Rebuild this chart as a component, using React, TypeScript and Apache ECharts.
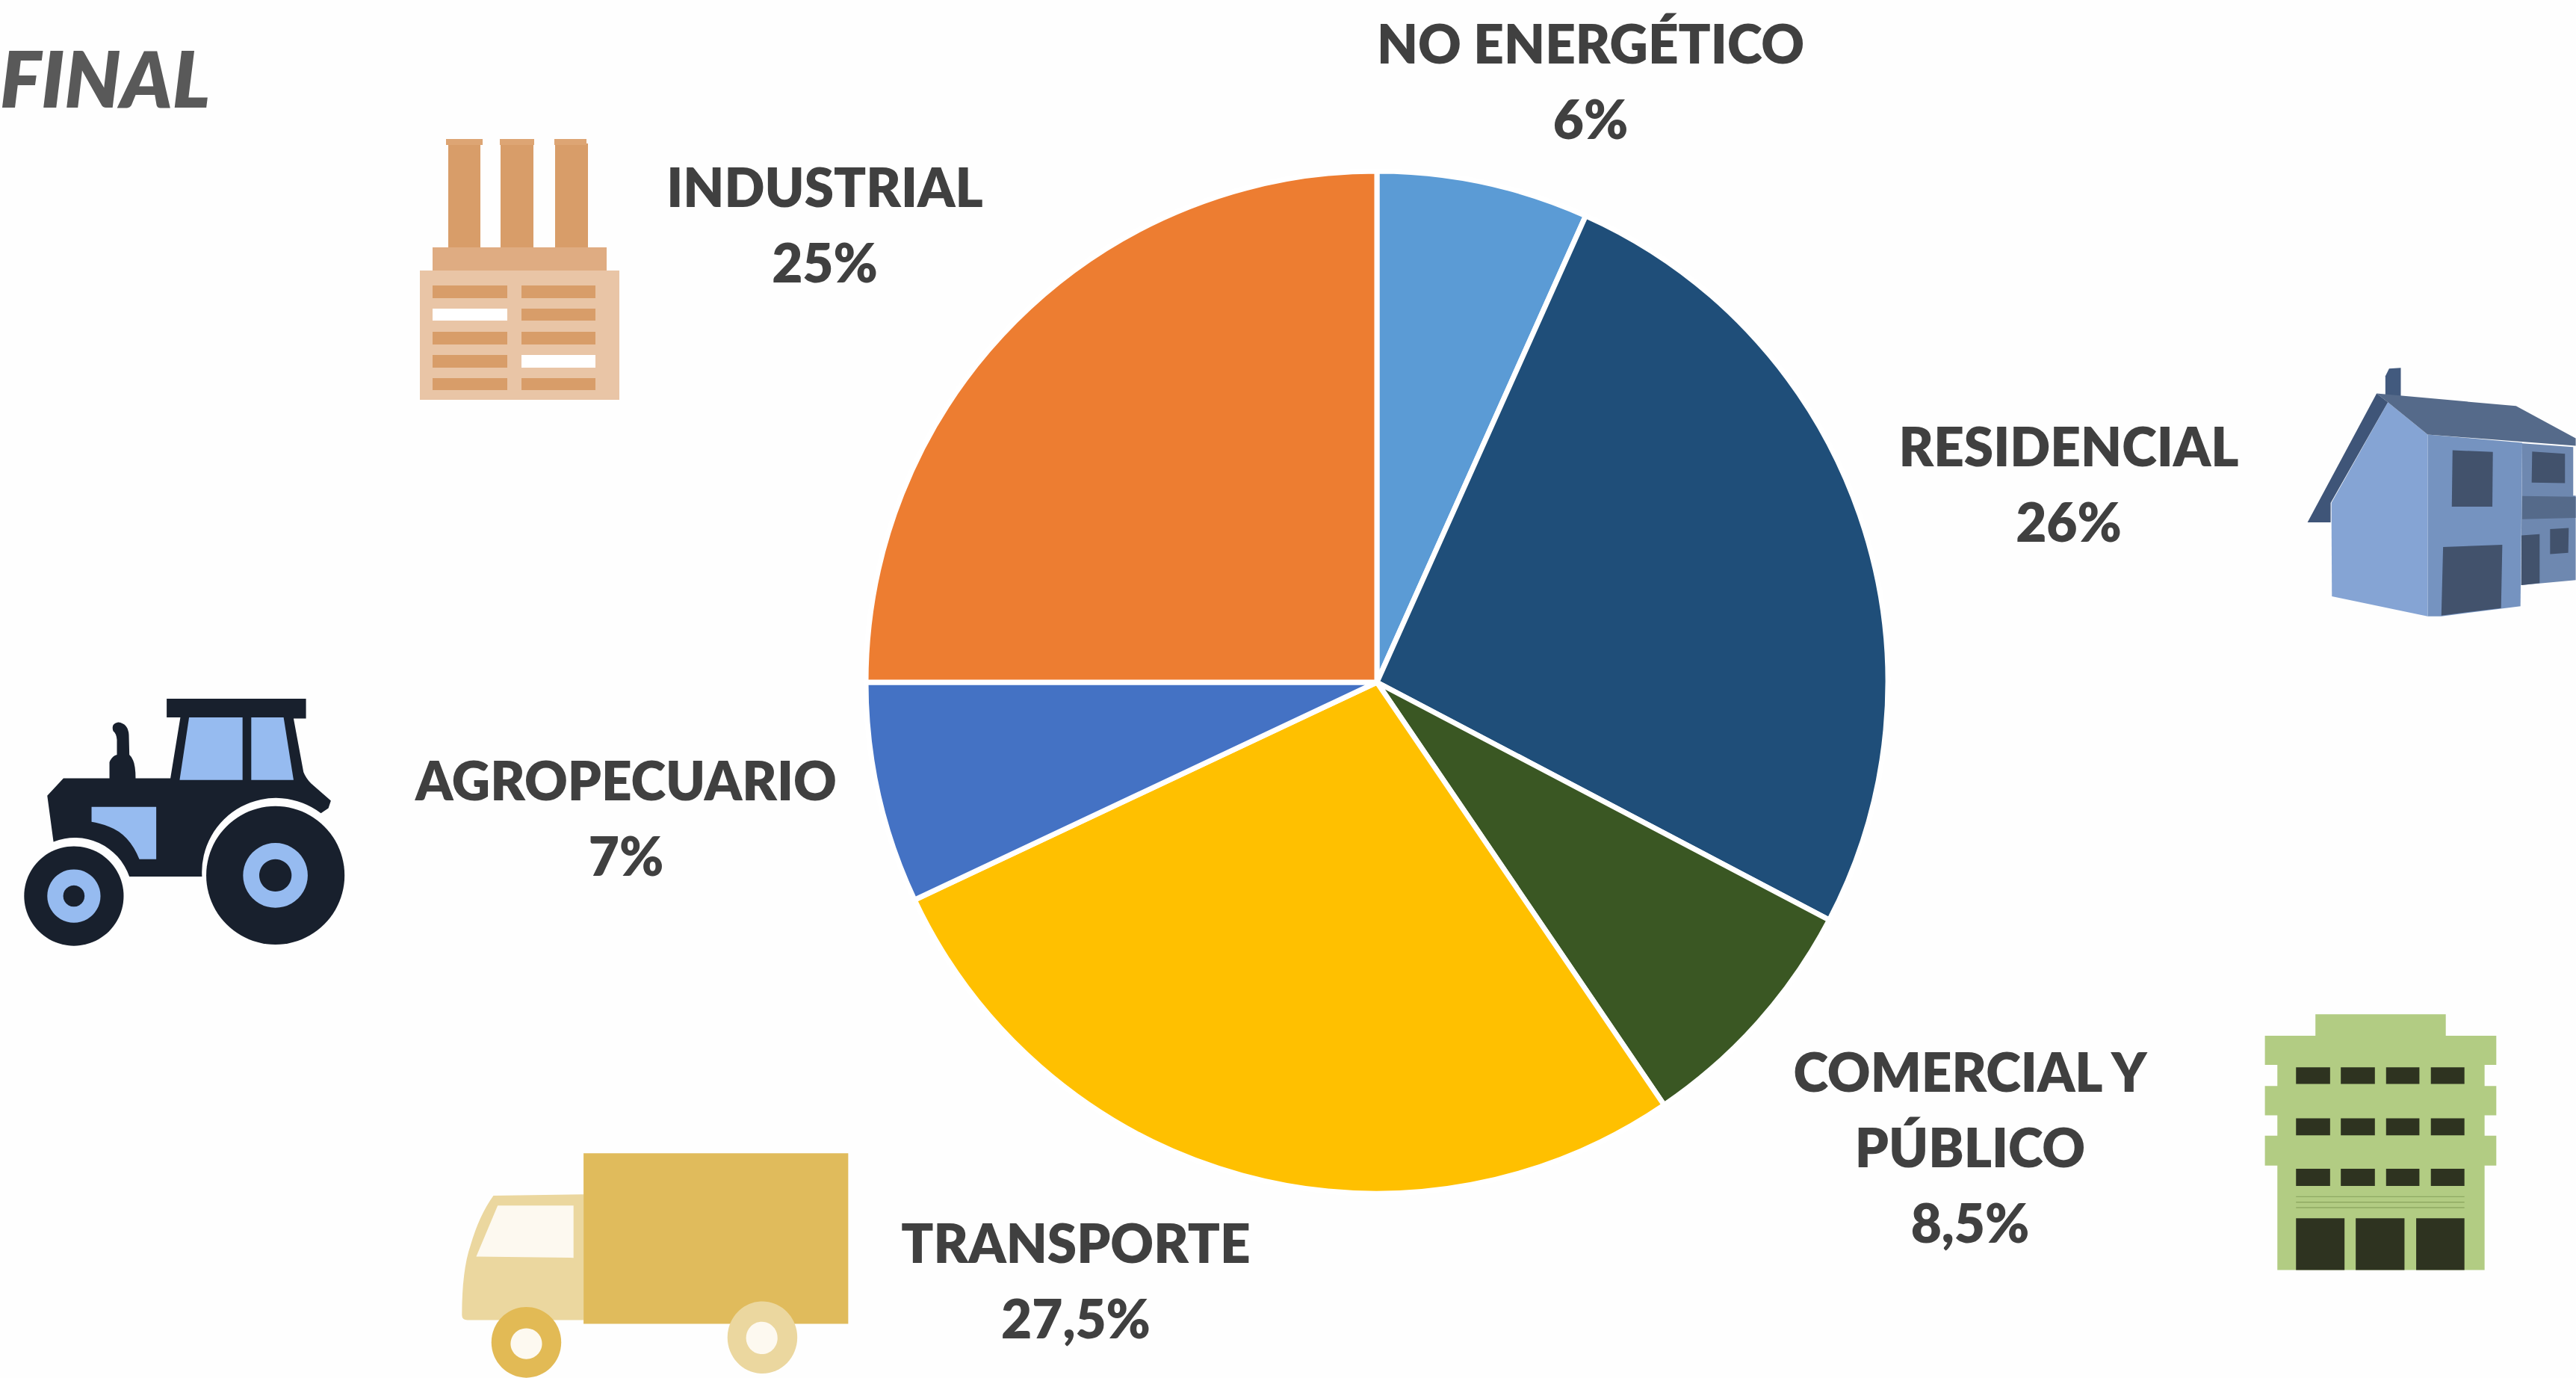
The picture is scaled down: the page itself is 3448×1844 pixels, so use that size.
import React, { useEffect, useRef } from "react";
import * as echarts from "echarts";

const sectors = ["NO ENERGÉTICO", "RESIDENCIAL", "COMERCIAL Y PÚBLICO", "TRANSPORTE", "AGROPECUARIO", "INDUSTRIAL"];
const sliceShares = [6.7, 26, 7.8, 27.5, 7, 25];
// Label texts as printed in the picture.
const labelLines = ["NO ENERGÉTICO\n6%", "RESIDENCIAL\n26%", "COMERCIAL Y\nPÚBLICO\n8,5%", "TRANSPORTE\n27,5%", "AGROPECUARIO\n7%", "INDUSTRIAL\n25%"];
const sliceColors = ["#5B9BD5", "#1F4E79", "#3A5723", "#FFC000", "#4472C4", "#ED7D31"];
const labelCenters = [[2129, 108], [2769, 647], [2637, 1534], [1440, 1713], [838, 1094], [1104, 300]];
const title = "FINAL";

echarts.graphic.registerShape("tractorBody", echarts.graphic.extendPath(
  "M190 495 L255 425 L440 425 L440 360 Q450 335 470 330 L470 270 Q468 245 455 235 Q445 205 475 200 Q515 205 518 250 L520 330 Q545 350 545 425 L685 425 L725 180 L670 180 L670 105 L1230 105 L1230 185 L1180 185 L1220 400 Q1230 425 1250 445 L1330 515 L1320 545 L1290 565 A 298 298 0 0 0 812 820 L520 820 A 232 232 0 0 0 215 680 Z", {}));
echarts.graphic.registerShape("tractorPanel", echarts.graphic.extendPath(
  "M368 540 L628 540 L628 750 L560 750 Q520 650 440 620 Q400 605 368 600 Z", {}));
echarts.graphic.registerShape("truckCab", echarts.graphic.extendPath(
  "M100 780 Q100 600 130 500 Q160 380 210 300 L525 295 L525 800 L120 800 Q100 800 100 780 Z", {}));

const rect = (x1: number, y1: number, x2: number, y2: number, fill: string) => ({
  type: "rect", shape: { x: x1, y: y1, width: x2 - x1, height: y2 - y1 }, style: { fill },
});
const poly = (points: number[][], fill: string) => ({ type: "polygon", shape: { points }, style: { fill } });
const circle = (cx: number, cy: number, r: number, fill: string) => ({ type: "circle", shape: { cx, cy, r }, style: { fill } });
const ell = (cx: number, cy: number, rx: number, ry: number, fill: string) => ({ type: "ellipse", shape: { cx, cy, rx, ry }, style: { fill } });

function factory() {
  const dark = "#D89D69";
  const kids: any[] = [
    rect(562, 362, 829, 535, "#E9C5A6"),
    rect(579, 331, 812, 362, "#DFAC82"),
    rect(600, 192, 643, 331, dark), rect(597, 186, 646, 194, "#DDA574"),
    rect(670, 192, 714, 331, dark), rect(669, 186, 715, 194, "#DDA574"),
    rect(743, 192, 787, 331, dark), rect(742, 186, 785, 194, "#DDA574"),
  ];
  const rows = [[382, 399], [413, 429], [444, 461], [475, 492], [506, 522]];
  rows.forEach(([a, b], i) => {
    kids.push(rect(579, a, 679, b, i === 1 ? "#FFFFFF" : dark));
    kids.push(rect(698, a, 797, b, i === 3 ? "#FFFFFF" : dark));
  });
  return { type: "group", children: kids };
}

function tractor() {
  const d = "#18202D", l = "#96BBF0";
  return {
    type: "group", x: 0, y: 900, scaleX: 1 / 3, scaleY: 1 / 3,
    children: [
      { type: "tractorBody", style: { fill: d } },
      { type: "tractorPanel", style: { fill: l } },
      poly([[760, 180], [975, 180], [975, 432], [722, 432]], l),
      poly([[1010, 180], [1140, 180], [1180, 432], [1010, 432]], l),
      circle(1107, 815, 278, d), circle(1107, 815, 130, l), circle(1107, 815, 65, d),
      circle(297, 898, 200, d), circle(297, 898, 107, l), circle(297, 898, 43, d),
    ],
  };
}

function truck() {
  return {
    type: "group", x: 580, y: 1500, scaleX: 1 / 2.613, scaleY: 1 / 3,
    children: [
      { type: "truckCab", style: { fill: "#EBD79F" } },
      poly([[225, 340], [490, 340], [490, 550], [150, 545]], "#FDF9F0"),
      rect(525, 130, 1450, 815, "#E0BB5C"),
      ell(325, 890, 122, 142, "#E2BA55"), ell(325, 895, 55, 62, "#FDF9F0"),
      ell(1150, 870, 122, 145, "#EBD79F"), ell(1148, 872, 55, 65, "#FDF9F0"),
    ],
  };
}

function building() {
  const g = "#B2CC83", d = "#2E3320";
  const kids: any[] = [
    rect(205, 300, 1038, 1140, g),
    rect(358, 112, 882, 205, g),
    rect(155, 198, 1085, 315, g), rect(155, 400, 1085, 518, g), rect(155, 600, 1085, 720, g),
  ];
  [[325, 392], [530, 598], [733, 802]].forEach(([a, b]) => {
    [[280, 417], [460, 597], [642, 776], [822, 957]].forEach(([x1, x2]) => kids.push(rect(x1, a, x2, b, d)));
  });
  [845, 867, 889].forEach((y) => kids.push(rect(280, y - 2, 957, y + 2, "#8FAA63")));
  [[280, 475], [520, 716], [763, 957]].forEach(([x1, x2]) => kids.push(rect(x1, 932, x2, 1140, d)));
  return { type: "group", x: 2980, y: 1320, scaleX: 1 / 3, scaleY: 1 / 3, children: kids };
}

function house() {
  const dk = "#42526C";
  return {
    type: "group", x: 3048, y: 460, scaleX: 1 / 3, scaleY: 1 / 3,
    children: [
      poly([[435, 130], [450, 100], [497, 97], [497, 210], [435, 210]], "#425A7E"),
      poly([[985, 400], [1190, 415], [1190, 610], [1200, 610], [1200, 950], [980, 970]], "#6E88B0"),
      poly([[605, 365], [985, 398], [978, 1055], [660, 1095], [605, 1095]], "#7593C0"),
      poly([[445, 235], [605, 365], [605, 1095], [220, 1015], [218, 640]], "#85A4D4"),
      poly([[400, 200], [960, 250], [1200, 380], [1200, 410], [605, 365], [445, 235]], "#556A8A"),
      poly([[400, 200], [445, 235], [215, 640], [215, 718], [122, 718]], "#3F5578"),
      poly([[985, 612], [1200, 615], [1200, 700], [985, 705]], "#556A8A"),
      poly([[705, 428], [867, 435], [865, 655], [702, 655]], dk),
      poly([[1025, 433], [1157, 442], [1157, 560], [1023, 558]], dk),
      poly([[667, 817], [905, 808], [900, 1062], [660, 1092]], dk),
      poly([[982, 770], [1055, 765], [1055, 962], [982, 970]], dk),
      poly([[1097, 745], [1172, 740], [1170, 840], [1097, 845]], dk),
    ],
  };
}

export default function App() {
  const ref = useRef<HTMLDivElement>(null);
  useEffect(() => {
    document.body.style.margin = "0";
    const chart = echarts.init(ref.current!, undefined, { renderer: "svg" });
    chart.setOption({
      animation: false,
      backgroundColor: "#FEFEFE",
      graphic: { elements: [
        factory(), tractor(), truck(), building(), house(),
        { type: "text", x: 0, y: 103, style: { text: title, fill: "#595959", font: "italic 800 104px Lato, 'Open Sans', sans-serif", textVerticalAlign: "middle" } },
      ] },
      series: [{
        type: "pie",
        center: [1843, 913],
        radius: [0, 684],
        startAngle: 90,
        clockwise: true,
        avoidLabelOverlap: false,
        itemStyle: { borderColor: "#FFFFFF", borderWidth: 7 },
        label: {
          show: true,
          position: "outside",
          formatter: (p: any) => labelLines[p.dataIndex],
          fontFamily: "Lato, 'Open Sans', sans-serif",
          fontWeight: 800,
          fontSize: 71,
          lineHeight: 101,
          color: "#404040",
          align: "center",
        },
        labelLine: { show: false },
        labelLayout: (p: any) => ({
          x: labelCenters[p.dataIndex][0],
          y: labelCenters[p.dataIndex][1],
          align: "center",
          verticalAlign: "middle",
        }),
        data: sectors.map((name, i) => ({ name, value: sliceShares[i], itemStyle: { color: sliceColors[i] } })),
      }],
    });
    return () => chart.dispose();
  }, []);
  return <div ref={ref} style={{ position: "absolute", left: 0, top: 0, width: 3448, height: 1844 }} />;
}
